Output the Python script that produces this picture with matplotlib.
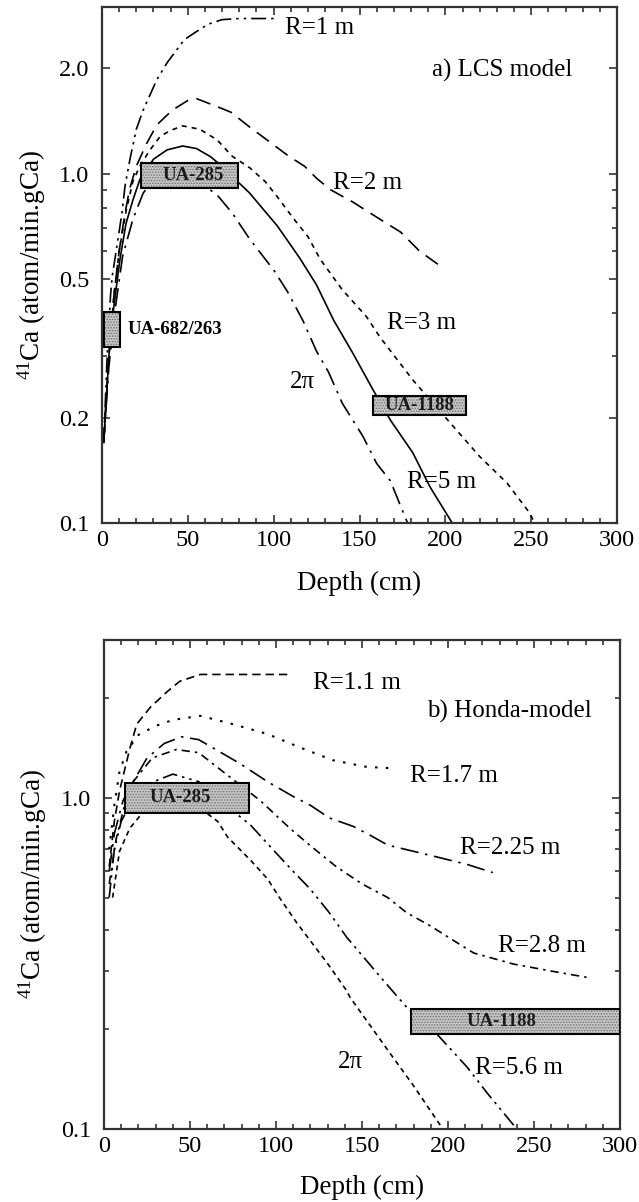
import matplotlib
matplotlib.use("Agg")
import matplotlib.pyplot as plt
from matplotlib.patches import Rectangle
from matplotlib.ticker import FixedLocator, NullFormatter

plt.rcParams.update({
    "font.family":        "Liberation Serif",
    "mathtext.fontset":   "custom",
    "mathtext.rm":        "Liberation Serif",
    "mathtext.it":        "Liberation Serif:italic",
    "font.size":          17.5,
    "hatch.linewidth":    0.7,
})

# ---- panel a) LCS model -------------------------------------------------
A_R1_X = [1, 3, 5, 6, 8.7, 11.6, 13.4, 16.3, 20, 24, 32, 38, 48, 55, 62, 70, 80, 100]
A_R1_Y = [0.17, 0.3, 0.45, 0.51, 0.62, 0.77, 0.92, 1.1, 1.34, 1.52, 1.86, 2.08,
          2.42, 2.55, 2.68, 2.76, 2.78, 2.78]
A_R2_X = [1, 4, 7, 10, 13, 16, 20, 26, 32, 41, 50, 55, 65, 75, 86, 96, 109, 118,
          125, 133, 146, 162, 174, 185, 198]
A_R2_Y = [0.17, 0.3, 0.45, 0.6, 0.75, 0.9, 1.05, 1.22, 1.38, 1.52, 1.62, 1.64,
          1.57, 1.5, 1.36, 1.25, 1.12, 1.05, 0.97, 0.9, 0.83, 0.74, 0.68, 0.6, 0.54]
A_R3_X = [1, 4, 7, 10, 14, 18, 22, 28, 34, 40, 47, 57, 67, 76, 86, 95, 102, 111,
          120, 127, 140, 154, 162, 181, 203, 220, 236, 249, 252]
A_R3_Y = [0.17, 0.3, 0.45, 0.6, 0.78, 0.95, 1.05, 1.17, 1.28, 1.33, 1.37, 1.34,
          1.25, 1.12, 1.04, 0.95, 0.86, 0.75, 0.66, 0.57, 0.465, 0.39, 0.34,
          0.257, 0.193, 0.155, 0.13, 0.107, 0.1]
A_R5_X = [1, 4, 7, 10.5, 14, 18, 22, 30, 38, 47, 55, 63, 70, 76, 86, 94, 102,
          115, 125, 135, 146, 158, 168, 181, 191, 204]
A_R5_Y = [0.17, 0.3, 0.42, 0.57, 0.72, 0.84, 0.96, 1.1, 1.17, 1.2, 1.18, 1.12,
          1.05, 0.98, 0.88, 0.79, 0.71, 0.575, 0.48, 0.38, 0.307, 0.24, 0.197,
          0.159, 0.127, 0.1]
A_2PI_X = [1, 4, 8, 12, 18, 24, 30, 40, 50, 60, 67, 76, 86, 100, 108, 117, 125,
           132, 140, 152, 160, 168, 172, 178]
A_2PI_Y = [0.17, 0.28, 0.42, 0.58, 0.74, 0.88, 0.96, 1.0, 0.98, 0.92, 0.87, 0.77,
           0.65, 0.53, 0.46, 0.38, 0.31, 0.27, 0.22, 0.177, 0.148, 0.132, 0.118, 0.1]

# ---- panel b) Honda model -----------------------------------------------
B_R11_X = [3, 6, 9, 15, 19, 27, 37, 44, 56, 108]
B_R11_Y = [0.62, 0.85, 1.05, 1.41, 1.67, 1.88, 2.1, 2.25, 2.36, 2.36]
B_R17_X = [3, 6, 9, 13, 20, 30, 40, 56, 75, 95, 114, 133, 153, 167]
B_R17_Y = [0.7, 0.95, 1.2, 1.38, 1.55, 1.65, 1.72, 1.77, 1.67, 1.56, 1.42, 1.3,
           1.24, 1.23]
B_R225_X = [3, 6, 11, 17, 25, 35, 45, 55, 65, 79, 95, 110, 120, 131, 145, 155,
            165, 185, 211, 226]
B_R225_Y = [0.6, 0.78, 0.98, 1.12, 1.32, 1.46, 1.53, 1.5, 1.4, 1.27, 1.12, 1.01,
            0.95, 0.87, 0.82, 0.77, 0.72, 0.68, 0.63, 0.595]
B_R28_X = [3, 7, 13, 17, 28, 42, 55, 71, 91, 108, 121, 135, 150, 165, 176, 190,
           200, 215, 224, 238, 260, 281]
B_R28_Y = [0.55, 0.75, 1.0, 1.12, 1.32, 1.4, 1.37, 1.18, 0.98, 0.81, 0.71, 0.62,
           0.55, 0.5, 0.45, 0.41, 0.38, 0.34, 0.33, 0.315, 0.3, 0.287]
B_R56_X = [3, 6, 10, 15, 25, 40, 55, 65, 73, 85, 98, 110, 120, 131, 141, 151,
           164, 176, 191, 211, 223, 240]
B_R56_Y = [0.5, 0.7, 0.85, 0.95, 1.1, 1.18, 1.12, 1.0, 0.93, 0.83, 0.7, 0.6,
           0.53, 0.45, 0.38, 0.33, 0.275, 0.233, 0.2, 0.154, 0.128, 0.1]
B_2PI_X = [5, 9, 15, 23, 35, 45, 56, 66, 72, 85, 95, 102, 112, 130, 141, 143,
           165, 180, 197]
B_2PI_Y = [0.5, 0.69, 0.81, 0.91, 0.98, 1.0, 0.93, 0.85, 0.76, 0.65, 0.57, 0.5,
           0.42, 0.316, 0.262, 0.25, 0.173, 0.135, 0.1]

# sample boxes: (name, x0, x1, y0, y1, text_x, text_y)
A_BOXES = [("UA-285", 23, 79, 0.91, 1.075, 53, 0.99),
           ("UA-1188", 158, 212, 0.204, 0.231, 185, 0.217)]
B_BOXES = [("UA-285", 12, 84, 0.90, 1.11, 44, 1.0),
           ("UA-1188", 178.5, 300, 0.193, 0.231, 231, 0.211)]

LS_DDOT = (0, (9, 3, 1.5, 3, 1.5, 3))
LS_LONG = (0, (9, 5))
LS_SHORT = (0, (3, 3))
LS_LDOT = (0, (11, 4, 1.5, 4))
LS_DASH = (0, (5, 3))
LS_DOT = (0, (1.2, 4))
LS_DDASH = (0, (5, 3, 1.5, 3))
LS_SDASH = (0, (3, 2.5))

SPINE = "#333333"


def draw_box(ax, name, x0, x1, y0, y1, tx, ty):
    # stippled grey fill, then black outline on top
    ax.add_patch(Rectangle((x0, y0), x1 - x0, y1 - y0, facecolor="#c6c6c6",
                           edgecolor="#6e6e6e", lw=0, hatch="......", zorder=3))
    ax.add_patch(Rectangle((x0, y0), x1 - x0, y1 - y0, facecolor="none",
                           edgecolor="black", lw=1.5, zorder=4))
    ax.text(tx, ty, name, ha="center", va="center", fontsize=13.5,
            fontweight="bold", color="#1a1a1a", zorder=5)


def style_axes(ax, major, minor, labelled):
    ax.set_yscale("log")
    ax.set_xlim(0, 300)
    ax.set_ylim(0.1, 3.0)
    ax.set_xticks(range(0, 301, 50))
    ax.set_xticks(range(0, 301, 10), minor=True)
    ax.yaxis.set_major_locator(FixedLocator(major))
    ax.yaxis.set_minor_locator(FixedLocator(minor))
    ax.yaxis.set_minor_formatter(NullFormatter())
    ax.set_yticklabels(["%.1f" % v if v in labelled else "" for v in major])
    ax.tick_params(which="both", direction="in", top=True, right=True,
                   color=SPINE, width=1.2, labelsize=17.5)
    ax.tick_params(which="major", length=6)
    ax.tick_params(which="minor", length=3.5)
    ax.tick_params(axis="x", pad=5)
    ax.tick_params(axis="y", pad=9)
    for s in ax.spines.values():
        s.set_linewidth(1.6)
        s.set_color(SPINE)
    ax.set_xlabel("Depth (cm)", fontsize=19.5)
    ax.set_ylabel(r"$^{41}$Ca (atom/min.gCa)", fontsize=19.5)
    ax.xaxis.set_label_coords(0.5, -0.093)


fig = plt.figure(figsize=(6.39, 12.02), dpi=100)
ax1 = fig.add_axes([0.1596, 0.5649, 0.806, 0.4293])
ax2 = fig.add_axes([0.1628, 0.0607, 0.8075, 0.4069])

lw = 1.2
# panel a
ax1.plot(A_R1_X, A_R1_Y, color="black", lw=lw, ls=LS_DDOT)
ax1.plot(A_R2_X, A_R2_Y, color="black", lw=lw, ls=LS_LONG)
ax1.plot(A_R3_X, A_R3_Y, color="black", lw=lw, ls=LS_SHORT)
ax1.plot(A_R5_X, A_R5_Y, color="black", lw=lw, ls="-")
ax1.plot(A_2PI_X, A_2PI_Y, color="black", lw=lw, ls=LS_LDOT)
for b in A_BOXES:
    draw_box(ax1, *b)
draw_box(ax1, "", 1.2, 10.5, 0.319, 0.402, 5.8, 0.36)
ax1.text(15, 0.357, "UA-682/263", ha="left", va="center", fontsize=13.5,
         fontweight="bold")
ax1.text(106.5, 2.62, "R=1 m", ha="left", va="center", fontsize=18)
ax1.text(274, 1.98, "a) LCS model", ha="right", va="center", fontsize=18)
ax1.text(134.5, 0.94, "R=2 m", ha="left", va="center", fontsize=18)
ax1.text(166, 0.374, "R=3 m", ha="left", va="center", fontsize=18)
ax1.text(109.5, 0.254, "2π", ha="left", va="center", fontsize=18)
ax1.text(177.5, 0.131, "R=5 m", ha="left", va="center", fontsize=18)
style_axes(ax1, [0.1, 0.2, 0.5, 1.0, 2.0], [0.3, 0.4, 0.6, 0.7, 0.8, 0.9],
           [0.1, 0.2, 0.5, 1.0, 2.0])
ax1.yaxis.set_label_coords(-0.104, 0.5)

# panel b
ax2.plot(B_R11_X, B_R11_Y, color="black", lw=lw, ls=LS_DASH)
ax2.plot(B_R17_X, B_R17_Y, color="black", lw=lw + 0.3, ls=LS_DOT)
ax2.plot(B_R225_X, B_R225_Y, color="black", lw=lw, ls=LS_LDOT)
ax2.plot(B_R28_X, B_R28_Y, color="black", lw=lw, ls=LS_DDASH)
ax2.plot(B_R56_X, B_R56_Y, color="black", lw=lw, ls=LS_DDOT)
ax2.plot(B_2PI_X, B_2PI_Y, color="black", lw=lw, ls=LS_SDASH)
for b in B_BOXES:
    draw_box(ax2, *b)
ax2.text(121.5, 2.22, "R=1.1 m", ha="left", va="center", fontsize=18)
ax2.text(188, 1.83, "b) Honda-model", ha="left", va="center", fontsize=18)
ax2.text(178, 1.165, "R=1.7 m", ha="left", va="center", fontsize=18)
ax2.text(207, 0.707, "R=2.25 m", ha="left", va="center", fontsize=18)
ax2.text(229, 0.358, "R=2.8 m", ha="left", va="center", fontsize=18)
ax2.text(136, 0.159, "2π", ha="left", va="center", fontsize=18)
ax2.text(215.5, 0.153, "R=5.6 m", ha="left", va="center", fontsize=18)
style_axes(ax2, [0.1, 1.0], [0.2, 0.3, 0.4, 0.5, 0.6, 0.7, 0.8, 0.9, 2.0],
           [0.1, 1.0])
ax2.yaxis.set_label_coords(-0.107, 0.5)

fig.savefig("out.png", dpi=100)
